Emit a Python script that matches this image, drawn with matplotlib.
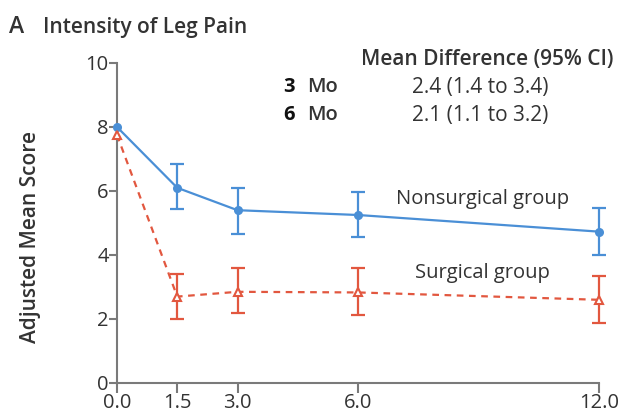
import numpy as np
import matplotlib
matplotlib.use("Agg")
import matplotlib.pyplot as plt

months = [0.0, 1.5, 3.0, 6.0, 12.0]
x_ticklabels = ["0.0", "1.5", "3.0", "6.0", "12.0"]
y_ticks = [0, 2, 4, 6, 8, 10]

nonsurg = [8.0, 6.1, 5.4, 5.25, 4.73]
nonsurg_lo = [np.nan, 5.44, 4.65, 4.55, 4.0]
nonsurg_hi = [np.nan, 6.83, 6.1, 5.98, 5.48]

surg = [7.75, 2.7, 2.85, 2.83, 2.6]
surg_lo = [np.nan, 2.0, 2.18, 2.12, 1.86]
surg_hi = [np.nan, 3.4, 3.6, 3.58, 3.34]

rows = ["3", "6"]
row_diffs = ["2.4 (1.4 to 3.4)", "2.1 (1.1 to 3.2)"]

BLUE = "#4a8fd6"
RED = "#e2573f"
GRAY = "#7a7a7a"
TXT = "#333333"
FS = 14.5

plt.rcParams['font.family'] = ['Open Sans', 'DejaVu Sans']

fig = plt.figure(figsize=(6.22, 4.17), dpi=100)
ax = fig.add_axes([117/622, 1-383/417, (599-117)/622, (383-63)/417])

def draw(ax, y, lo, hi, color, ls, marker, mfc):
    y = np.array(y); lo = np.array(lo); hi = np.array(hi)
    x = np.array(months)
    if ls == '--':
        ax.plot(x, y, color=color, lw=1.6, zorder=2, dashes=(3, 2.5))
    else:
        ax.plot(x, y, color=color, lw=1.6, zorder=2)
    m = ~np.isnan(lo)
    ax.errorbar(x[m], y[m], yerr=[y[m]-lo[m], hi[m]-y[m]], fmt='none', ecolor=color,
                elinewidth=1.6, capsize=5, capthick=1.6, zorder=3)
    ax.plot(x, y, ls='none', marker=marker, ms=6 if marker == '^' else 5,
            mfc=mfc, mec=color, mew=1.5, zorder=4)

draw(ax, nonsurg, nonsurg_lo, nonsurg_hi, BLUE, '-', 'o', BLUE)
draw(ax, surg, surg_lo, surg_hi, RED, '--', '^', 'white')

ax.set_xlim(0, 12)
ax.set_ylim(0, 10)
ax.set_xticks(months)
ax.set_xticklabels(x_ticklabels)
ax.set_yticks(y_ticks)
for s in ['top', 'right']:
    ax.spines[s].set_visible(False)
for s in ['left', 'bottom']:
    ax.spines[s].set_color(GRAY)
    ax.spines[s].set_linewidth(1.5)
ax.tick_params(axis='both', colors=GRAY, width=1.5, labelsize=FS, labelcolor=TXT)
ax.tick_params(axis='y', length=6, pad=0)
ax.tick_params(axis='x', length=7, pad=0)
for ln in ax.lines:
    ln.set_clip_on(False)
for c in ax.collections:
    c.set_clip_on(False)

ax.set_ylabel("Adjusted Mean Score", fontsize=15, fontweight='semibold', color=TXT)
ax.yaxis.set_label_coords(-0.158, 0.456)

fig.text(9/622, 1-27/417, "A", fontsize=16.5, fontweight='semibold', color=TXT, va='center', ha='left')
fig.text(43/622, 1-27/417, "Intensity of Leg Pain", fontsize=15, fontweight='semibold', color=TXT, va='center', ha='left')

fig.text(487/622, 1-60/417, "Mean Difference (95% CI)", fontsize=15, fontweight='semibold', color=TXT, va='center', ha='center')
row_y = [87, 115]
for r, d, yy in zip(rows, row_diffs, row_y):
    fig.text(283/622, 1-yy/417, r, fontsize=FS, fontweight='bold', color='#111111', va='center', ha='left')
    fig.text(307/622, 1-yy/417, "Mo", fontsize=FS, fontweight='semibold', color=TXT, va='center', ha='left')
    fig.text(480/622, 1-yy/417, d, fontsize=15, color=TXT, va='center', ha='center')

fig.text(483/622, 1-199/417, "Nonsurgical group", fontsize=FS, color=TXT, va='center', ha='center')
fig.text(482/622, 1-273/417, "Surgical group", fontsize=FS, color=TXT, va='center', ha='center')

fig.savefig("out.png", dpi=100)
